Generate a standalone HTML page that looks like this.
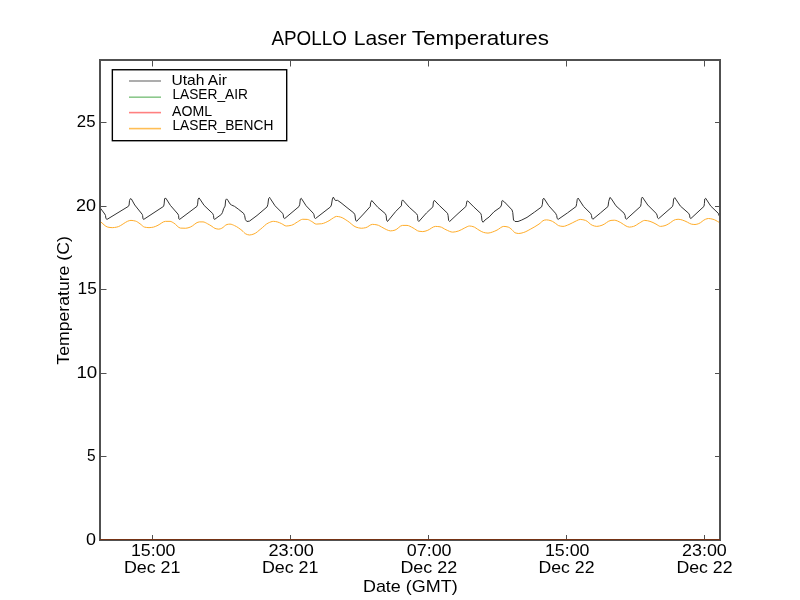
<!DOCTYPE html>
<html><head><meta charset="utf-8"><style>
html,body{margin:0;padding:0;background:#fff;width:800px;height:600px;overflow:hidden}
svg{display:block;will-change:transform}
text{font-family:"Liberation Sans",sans-serif;fill:#000}
</style></head><body>
<svg width="800" height="600" viewBox="0 0 800 600">
<rect x="0" y="0" width="800" height="600" fill="#fff"/>
<!-- DATA -->
<defs><clipPath id="ax"><rect x="100" y="60" width="620" height="480"/></clipPath></defs>
<g id="data" clip-path="url(#ax)" fill="none" stroke-linejoin="round" stroke-linecap="butt">
<path id="bench" stroke="#ffad2a" stroke-width="1.0" d="M99.00,220.60 C99.42,220.90 99.83,221.20 100.25,221.50 C102.75,223.32 105.25,226.60 107.75,227.10 C109.25,227.40 110.75,227.65 112.25,227.65 C113.75,227.65 115.25,227.36 116.75,227.10 C121.50,226.26 126.25,220.40 131.00,220.40 C132.50,220.40 134.00,220.73 135.50,221.10 C137.00,221.47 138.50,222.76 140.00,223.75 C141.50,224.74 143.00,226.79 144.50,227.10 C146.00,227.41 147.50,227.65 149.00,227.65 C150.50,227.65 152.00,227.38 153.50,227.10 C155.00,226.82 156.50,225.93 158.00,225.25 C160.50,224.11 163.00,221.35 165.50,221.35 C167.00,221.35 168.50,221.35 170.00,221.35 C171.25,221.35 172.50,222.32 173.75,223.00 C176.00,224.22 178.25,227.98 180.50,228.10 C182.25,228.19 184.00,228.25 185.75,228.25 C187.25,228.25 188.75,227.61 190.25,227.10 C193.25,226.08 196.25,221.90 199.25,221.90 C200.50,221.90 201.75,221.90 203.00,221.90 C204.50,221.90 206.00,223.02 207.50,223.75 C209.00,224.48 210.50,225.46 212.00,226.40 C213.00,227.03 214.00,228.09 215.00,228.40 C216.25,228.79 217.50,229.15 218.75,229.15 C219.75,229.15 220.75,228.66 221.75,228.25 C223.50,227.54 225.25,224.87 227.00,224.50 C228.00,224.29 229.00,224.10 230.00,224.10 C231.50,224.10 233.00,224.96 234.50,225.60 C237.00,226.67 239.50,228.57 242.00,230.50 C243.25,231.47 244.50,233.35 245.75,233.90 C247.00,234.45 248.25,235.00 249.50,235.00 C251.00,235.00 252.50,234.43 254.00,233.90 C256.25,233.10 258.50,230.71 260.75,229.00 C263.25,227.10 265.75,224.10 268.25,223.00 C270.00,222.23 271.75,221.35 273.50,221.35 C274.75,221.35 276.00,221.63 277.25,221.90 C278.75,222.22 280.25,223.07 281.75,223.75 C283.25,224.43 284.75,226.00 286.25,226.00 C288.00,226.00 289.75,225.64 291.50,225.25 C293.50,224.80 295.50,222.96 297.50,221.90 C299.25,220.97 301.00,219.25 302.75,219.25 C304.25,219.25 305.75,219.31 307.25,219.40 C308.75,219.49 310.25,220.73 311.75,221.50 C313.25,222.27 314.75,224.10 316.25,224.10 C318.00,224.10 319.75,223.94 321.50,223.75 C324.00,223.48 326.50,222.03 329.00,220.75 C330.50,219.98 332.00,218.55 333.50,217.75 C334.50,217.22 335.50,216.40 336.50,216.40 C337.75,216.40 339.00,216.71 340.25,217.00 C342.75,217.58 345.25,219.54 347.75,221.10 C350.50,222.81 353.25,226.21 356.00,227.10 C357.75,227.67 359.50,228.25 361.25,228.25 C362.75,228.25 364.25,227.95 365.75,227.65 C368.00,227.20 370.25,224.35 372.50,224.35 C374.00,224.35 375.50,224.62 377.00,224.90 C379.00,225.28 381.00,226.80 383.00,227.80 C384.25,228.43 385.50,229.27 386.75,229.75 C388.00,230.23 389.25,230.90 390.50,230.90 C392.00,230.90 393.50,230.50 395.00,230.10 C397.50,229.44 400.00,225.40 402.50,225.40 C404.00,225.40 405.50,225.40 407.00,225.40 C409.00,225.40 411.00,226.95 413.00,227.90 C415.00,228.85 417.00,230.95 419.00,231.25 C420.25,231.44 421.50,231.60 422.75,231.60 C424.25,231.60 425.75,230.98 427.25,230.50 C430.00,229.63 432.75,226.40 435.50,226.40 C437.00,226.40 438.50,226.58 440.00,226.80 C442.00,227.09 444.00,228.92 446.00,229.75 C448.25,230.68 450.50,232.15 452.75,232.15 C454.75,232.15 456.75,231.49 458.75,230.90 C460.75,230.31 462.75,228.77 464.75,227.90 C466.37,227.19 467.98,226.00 469.60,226.00 C470.73,226.00 471.87,226.31 473.00,226.60 C475.00,227.12 477.00,229.01 479.00,230.10 C480.50,230.91 482.00,232.04 483.50,232.40 C485.00,232.76 486.50,233.10 488.00,233.10 C489.50,233.10 491.00,232.46 492.50,232.00 C494.00,231.54 495.50,230.81 497.00,230.10 C499.25,229.04 501.50,226.40 503.75,226.40 C505.25,226.40 506.75,226.71 508.25,227.10 C509.50,227.43 510.75,228.71 512.00,229.75 C513.00,230.58 514.00,232.41 515.00,232.75 C516.25,233.18 517.50,233.50 518.75,233.50 C520.25,233.50 521.75,233.01 523.25,232.60 C525.75,231.92 528.25,230.33 530.75,229.00 C533.50,227.54 536.25,225.94 539.00,224.10 C540.75,222.93 542.50,220.51 544.25,220.15 C545.00,219.99 545.75,219.85 546.50,219.85 C548.00,219.85 549.50,220.31 551.00,220.75 C553.00,221.34 555.00,223.13 557.00,224.50 C557.50,224.84 558.00,225.44 558.50,225.60 C560.00,226.08 561.50,226.40 563.00,226.40 C565.00,226.40 567.00,225.27 569.00,224.50 C571.50,223.54 574.00,221.78 576.50,220.75 C577.75,220.24 579.00,219.40 580.25,219.40 C582.00,219.40 583.75,219.89 585.50,220.40 C587.75,221.06 590.00,224.43 592.25,225.25 C593.75,225.80 595.25,226.40 596.75,226.40 C598.50,226.40 600.25,225.78 602.00,225.25 C605.00,224.35 608.00,220.69 611.00,220.40 C612.10,220.29 613.20,220.20 614.30,220.20 C616.45,220.20 618.60,221.57 620.75,222.60 C622.50,223.43 624.25,225.26 626.00,226.00 C627.13,226.48 628.27,227.10 629.40,227.10 C630.77,227.10 632.13,226.75 633.50,226.40 C635.50,225.89 637.50,224.06 639.50,223.00 C641.25,222.08 643.00,220.40 644.75,220.40 C646.50,220.40 648.25,220.90 650.00,221.35 C652.00,221.86 654.00,223.13 656.00,224.10 C657.50,224.83 659.00,226.40 660.50,226.40 C662.00,226.40 663.50,226.00 665.00,225.60 C666.25,225.27 667.50,224.43 668.75,223.75 C671.00,222.53 673.25,220.05 675.50,219.60 C676.37,219.43 677.23,219.25 678.10,219.25 C679.48,219.25 680.87,219.65 682.25,220.00 C684.00,220.44 685.75,221.44 687.50,222.25 C688.75,222.83 690.00,223.88 691.25,224.10 C692.50,224.32 693.75,224.50 695.00,224.50 C696.25,224.50 697.50,224.02 698.75,223.60 C701.00,222.85 703.25,220.02 705.50,219.25 C706.50,218.91 707.50,218.50 708.50,218.50 C710.00,218.50 711.50,218.88 713.00,219.25 C715.00,219.74 717.00,221.22 719.00,222.25 C719.67,222.59 720.33,222.95 721.00,223.30"/>
<path id="utah" stroke="#333" stroke-width="1.0" d="M99.00,206.60 L100.25,208.00 L104.75,214.00 L105.50,215.50 L105.90,218.50 L107.00,219.40 L128.40,206.35 L129.10,205.00 L129.50,200.50 L130.40,198.60 L131.40,199.00 L134.75,205.00 L142.25,214.40 L142.60,215.50 L143.00,218.90 L143.75,219.40 L163.60,206.35 L164.15,203.90 L164.60,198.60 L165.90,198.25 L170.40,205.40 L177.90,214.00 L178.60,215.50 L178.85,218.90 L179.60,219.40 L197.00,206.35 L197.60,204.25 L198.10,199.00 L199.10,197.90 L204.10,205.40 L212.75,213.60 L213.50,215.50 L213.90,218.90 L214.60,219.40 L221.40,214.40 L222.50,212.35 L223.60,208.75 L225.10,206.10 L225.65,200.10 L226.60,198.85 L227.75,200.10 L230.00,203.90 L231.50,205.00 L234.50,206.35 L238.25,209.10 L243.50,213.25 L244.60,215.50 L245.40,219.60 L246.90,221.50 L249.50,221.10 L257.00,215.50 L267.10,206.90 L267.90,204.25 L268.60,198.60 L269.60,197.35 L270.10,198.25 L275.00,205.75 L282.50,213.25 L283.25,214.75 L283.60,217.75 L284.75,218.50 L299.00,206.50 L299.75,204.25 L300.35,199.00 L301.25,198.25 L306.10,205.75 L313.25,213.25 L314.00,214.75 L314.50,217.75 L315.50,218.50 L330.50,206.90 L331.40,205.00 L332.40,199.00 L333.35,197.10 L334.40,199.00 L335.40,200.50 L337.60,200.35 L341.00,202.75 L347.00,207.60 L353.75,212.90 L354.90,214.75 L355.60,220.00 L356.60,221.35 L363.50,214.00 L370.25,206.50 L370.60,202.75 L371.75,200.50 L377.75,207.25 L385.25,213.60 L386.15,215.50 L386.60,220.00 L387.50,221.50 L395.75,211.40 L401.40,205.75 L401.75,201.25 L402.65,199.90 L409.25,207.25 L416.75,214.00 L417.50,215.50 L417.90,220.40 L418.85,221.50 L426.50,212.90 L432.90,206.90 L433.40,202.00 L434.40,200.30 L439.25,205.40 L447.50,213.25 L448.10,215.50 L448.60,220.40 L449.60,221.50 L458.00,213.60 L465.90,206.50 L466.40,204.25 L466.85,201.25 L467.75,200.90 L473.75,206.90 L480.90,213.60 L481.40,215.50 L482.00,220.75 L483.10,222.25 L485.00,220.00 L489.10,217.00 L494.00,211.75 L500.40,207.25 L501.50,205.00 L501.90,200.90 L502.40,200.50 L504.50,202.00 L512.00,209.90 L512.75,212.50 L513.50,220.00 L515.00,221.50 L518.00,221.50 L521.75,220.00 L527.00,217.40 L534.50,212.10 L541.60,206.90 L542.40,204.25 L542.90,199.00 L543.90,198.25 L548.75,205.75 L555.50,213.25 L556.70,215.50 L557.15,218.50 L558.10,219.40 L567.50,212.90 L576.10,206.50 L576.65,203.50 L577.25,199.40 L578.15,198.10 L583.60,206.50 L590.75,213.60 L591.50,215.50 L591.90,218.10 L592.85,219.25 L600.50,212.90 L608.00,206.50 L608.75,201.25 L609.90,197.50 L611.00,198.25 L615.90,205.75 L624.10,213.25 L625.10,215.50 L625.40,218.10 L626.40,219.25 L640.60,206.35 L641.15,203.50 L641.40,198.60 L642.35,197.10 L647.75,205.00 L656.00,213.25 L657.10,215.10 L657.50,217.75 L658.60,218.65 L672.50,206.50 L673.10,204.25 L673.60,199.00 L674.75,197.65 L680.40,206.10 L688.60,213.25 L689.60,215.10 L689.90,217.75 L690.90,218.50 L704.00,206.35 L704.40,203.50 L704.75,199.00 L705.65,198.25 L710.75,206.10 L718.25,213.25 L719.40,216.25 L721.00,219.00"/>
</g>
<!-- spines -->
<g fill="#505050">
<rect x="99" y="59" width="622" height="2"/>
<rect x="99" y="59" width="2" height="482"/>
<rect x="719" y="59" width="2" height="482"/>
<rect x="99" y="539" width="622" height="2"/>
</g>
<rect x="100" y="539" width="620" height="1" fill="#743214"/>
<!-- ticks -->
<g stroke="#505050" stroke-width="1">
<path d="M101,122.5h5.5M101,206.5h5.5M101,289.5h5.5M101,373.5h5.5M101,456.5h5.5"/>
<path d="M719,122.5h-4M719,206.5h-4M719,289.5h-4M719,373.5h-4M719,456.5h-4"/>
<path d="M152.5,539v-4M290.5,539v-4M428.5,539v-4M566.5,539v-4M704.5,539v-4"/>
<path d="M152.5,61v5.5M290.5,61v5.5M428.5,61v5.5M566.5,61v5.5M704.5,61v5.5"/>
</g>
<!-- y tick labels -->

<text transform="translate(69,300.4) rotate(-90)" font-size="16.6" text-anchor="middle" textLength="128.5" lengthAdjust="spacingAndGlyphs">Temperature (C)</text>
<!-- legend -->
<rect x="112.35" y="69.75" width="174.35" height="70.95" fill="#fff" stroke="#000" stroke-width="1.39"/>
<g stroke-width="1.6">
<line x1="129" y1="81" x2="161" y2="81" stroke="#999"/>
<line x1="129" y1="97.2" x2="161" y2="97.2" stroke="#8cc88c"/>
<line x1="129" y1="112.6" x2="161" y2="112.6" stroke="#ff8080"/>
<line x1="129" y1="128.6" x2="161" y2="128.6" stroke="#ffbe55"/>
</g>

<!--TEXTS-->
<text id="t1" x="271.40" y="45" font-size="20.9" textLength="75.45" lengthAdjust="spacingAndGlyphs">APOLLO</text>
<text id="t2" x="353.80" y="45" font-size="20.9" textLength="52.70" lengthAdjust="spacingAndGlyphs">Laser</text>
<text id="t3" x="411.80" y="45" font-size="20.9" textLength="137.25" lengthAdjust="spacingAndGlyphs">Temperatures</text>
<text id="xa1" x="130.90" y="556" font-size="17" textLength="44.60" lengthAdjust="spacingAndGlyphs">15:00</text>
<text id="xb1" x="123.90" y="573" font-size="17" textLength="56.60" lengthAdjust="spacingAndGlyphs">Dec 21</text>
<text id="xa2" x="268.50" y="556" font-size="17" textLength="45.40" lengthAdjust="spacingAndGlyphs">23:00</text>
<text id="xb2" x="261.90" y="573" font-size="17" textLength="56.60" lengthAdjust="spacingAndGlyphs">Dec 21</text>
<text id="xa3" x="406.85" y="556" font-size="17" textLength="44.70" lengthAdjust="spacingAndGlyphs">07:00</text>
<text id="xb3" x="400.45" y="573" font-size="17" textLength="56.70" lengthAdjust="spacingAndGlyphs">Dec 22</text>
<text id="xa4" x="544.90" y="556" font-size="17" textLength="44.60" lengthAdjust="spacingAndGlyphs">15:00</text>
<text id="xb4" x="538.50" y="573" font-size="17" textLength="56.00" lengthAdjust="spacingAndGlyphs">Dec 22</text>
<text id="xa5" x="682.00" y="556" font-size="17" textLength="44.80" lengthAdjust="spacingAndGlyphs">23:00</text>
<text id="xb5" x="676.40" y="573" font-size="17" textLength="56.20" lengthAdjust="spacingAndGlyphs">Dec 22</text>
<text id="xl" x="362.95" y="591.8" font-size="16.6" textLength="94.70" lengthAdjust="spacingAndGlyphs">Date (GMT)</text>
<text id="l1" x="171.50" y="85" font-size="14.2" textLength="55.40" lengthAdjust="spacingAndGlyphs">Utah Air</text>
<text id="l2" x="172.45" y="98.9" font-size="14.2" textLength="75.50" lengthAdjust="spacingAndGlyphs">LASER_AIR</text>
<text id="l3" x="172.00" y="115.6" font-size="14.2" textLength="40.00" lengthAdjust="spacingAndGlyphs">AOML</text>
<text id="l4" x="172.45" y="129.7" font-size="14.2" textLength="100.90" lengthAdjust="spacingAndGlyphs">LASER_BENCH</text>
<text id="y0" x="85.90" y="544.8" font-size="17" textLength="10.00" lengthAdjust="spacingAndGlyphs">0</text>
<text id="y5" x="86.90" y="460.7" font-size="17" textLength="8.60" lengthAdjust="spacingAndGlyphs">5</text>
<text id="y10" x="76.40" y="377.8" font-size="17" textLength="20.90" lengthAdjust="spacingAndGlyphs">10</text>
<text id="y15" x="77.60" y="293.9" font-size="17" textLength="19.20" lengthAdjust="spacingAndGlyphs">15</text>
<text id="y20" x="75.90" y="210.9" font-size="17" textLength="20.00" lengthAdjust="spacingAndGlyphs">20</text>
<text id="y25" x="76.85" y="126.9" font-size="17" textLength="18.70" lengthAdjust="spacingAndGlyphs">25</text>
<!--/TEXTS-->
</svg>
</body></html>
